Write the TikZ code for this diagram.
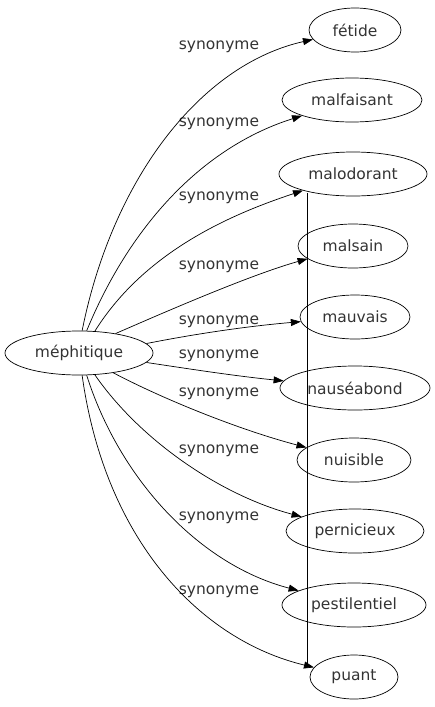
\documentclass[tikz,border=0pt]{standalone}
\usepackage{fontspec}
\setmainfont{DejaVu Sans}
\usetikzlibrary{shapes.geometric,arrows.meta}
\begin{document}
\begin{tikzpicture}[x=1pt,y=-1pt,
  word/.style={ellipse,draw,line width=0.7pt,inner sep=0pt,minimum height=44pt,font=\fontsize{15.5}{15.5}\selectfont,text=black!80},
  lab/.style={font=\fontsize{15.5}{15.5}\selectfont,text=black!80,inner sep=0pt},
  syn/.style={line width=0.7pt,-{Triangle[length=10pt,width=7pt]}}]
\useasboundingbox (0,0) rectangle (435,707);
\node[word,minimum width=148pt] (m) at (79,353) {méphitique};
\node[word,minimum width=92pt] (t1) at (355,30) {fétide};
\node[word,minimum width=140pt] (t2) at (352,100) {malfaisant};
\node[word,minimum width=148pt] (t3) at (353,174) {malodorant};
\node[word,minimum width=110pt] (t4) at (353,246) {malsain};
\node[word,minimum width=110pt] (t5) at (355,317) {mauvais};
\node[word,minimum width=150pt] (t6) at (355,388) {nauséabond};
\node[word,minimum width=114pt] (t7) at (354,460) {nuisible};
\node[word,minimum width=138pt] (t8) at (355,531) {pernicieux};
\node[word,minimum width=144pt] (t9) at (354,605) {pestilentiel};
\node[word,minimum width=88pt] (t10) at (354,677) {puant};
\node[lab] (l1) at (219,47) {synonyme};
\node[lab] (l2) at (219,124) {synonyme};
\node[lab] (l3) at (219,198) {synonyme};
\node[lab] (l4) at (219,267) {synonyme};
\node[lab] (l5) at (219,322) {synonyme};
\node[lab] (l6) at (219,356) {synonyme};
\node[lab] (l7) at (219,394) {synonyme};
\node[lab] (l8) at (219,451) {synonyme};
\node[lab] (l9) at (219,518) {synonyme};
\node[lab] (l10) at (219,592) {synonyme};
\draw[syn] (m.82) .. controls (112,181) and (199,65) .. (t1);
\draw[syn] (m.71) .. controls (132,221) and (206,146) .. (t2);
\draw[syn] (m.54) .. controls (145,251) and (232,214) .. (t3);
\draw[syn] (m.28) .. controls (165,312) and (250,275) .. (t4);
\draw[syn] (m.8) .. controls (200,333) and (250,326) .. (t5);
\draw[syn] (m.-8) .. controls (190,369) and (235,376) .. (t6);
\draw[syn] (m.-30) .. controls (165,400) and (240,430) .. (t7);
\draw[syn] (m.-54) .. controls (140,440) and (220,495) .. (t8);
\draw[syn] (m.-71) .. controls (120,480) and (200,565) .. (t9);
\draw[syn] (m.-82) .. controls (105,540) and (200,640) .. (t10);
\coordinate (v1) at (307,193);
\coordinate (v2) at (307,665);
\draw[line width=0.5pt] (v1) -- (v2);
\end{tikzpicture}
\end{document}
